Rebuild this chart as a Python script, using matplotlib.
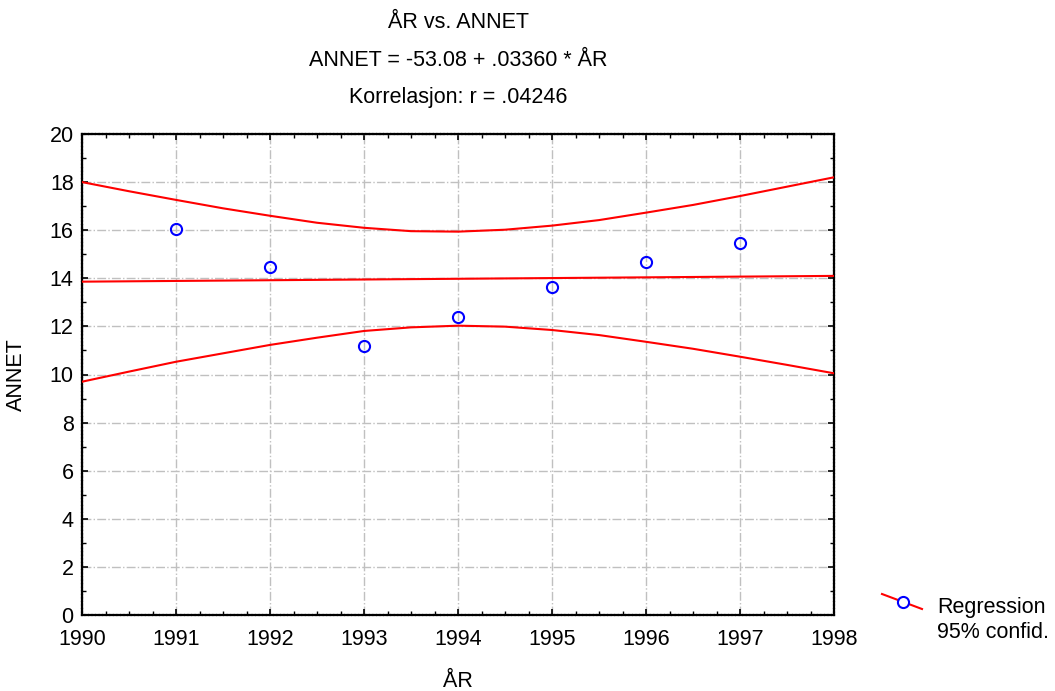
import numpy as np
import matplotlib
matplotlib.use('Agg')
import matplotlib.pyplot as plt
from matplotlib.lines import Line2D
from matplotlib.ticker import MultipleLocator

plt.rcParams['font.family'] = ['Liberation Sans', 'DejaVu Sans']

# observerte verdier
years = [1991, 1992, 1993, 1994, 1995, 1996, 1997]
annet = [16.04, 14.48, 11.20, 12.38, 13.65, 14.69, 15.46]

# regresjonslinje (lest av figuren)
reg_years = [1990, 1998]
reg_vals = [13.86, 14.10]

# 95% konfidensbånd (lest av figuren, hvert halvår)
band_years = [1990, 1990.5, 1991, 1991.5, 1992, 1992.5, 1993, 1993.5, 1994,
              1994.5, 1995, 1995.5, 1996, 1996.5, 1997, 1997.5, 1998]
band_upper = [18.00, 17.62, 17.26, 16.91, 16.60, 16.31, 16.10, 15.96, 15.94,
              16.02, 16.19, 16.42, 16.73, 17.05, 17.42, 17.81, 18.20]
band_lower = [9.70, 10.12, 10.53, 10.88, 11.23, 11.53, 11.81, 11.96, 12.03,
              11.99, 11.85, 11.64, 11.36, 11.07, 10.74, 10.40, 10.05]

fig = plt.figure(figsize=(10.55, 6.91), dpi=100)
ax = fig.add_axes([82 / 1055, 76 / 691, (834 - 82) / 1055, (615 - 134) / 691])

red = '#ff0000'
ax.plot(reg_years, reg_vals, color=red, lw=1.5, zorder=3)
ax.plot(band_years, band_upper, color=red, lw=1.5, zorder=3)
ax.plot(band_years, band_lower, color=red, lw=1.5, zorder=3)
ax.plot(years, annet, 'o', mfc='none', mec='#0000ff', ms=8, mew=1.5, zorder=4)

ax.set_xlim(1990, 1998)
ax.set_ylim(0, 20)
ax.xaxis.set_major_locator(MultipleLocator(1))
ax.xaxis.set_minor_locator(MultipleLocator(0.25))
ax.yaxis.set_major_locator(MultipleLocator(2))
ax.yaxis.set_minor_locator(MultipleLocator(1))
ax.tick_params(which='both', direction='in', top=True, right=True,
               labelsize=15.5, color='black')
ax.tick_params(which='major', length=4, width=1.2)
ax.tick_params(which='minor', length=3, width=1.0)
ax.tick_params(axis='x', which='major', pad=10)
ax.tick_params(axis='y', which='major', pad=6)
ax.grid(True, which='major', color='#c0c0c0', linestyle='-.', lw=1.0)
for sp in ax.spines.values():
    sp.set_linewidth(1.6)
    sp.set_color('black')
    sp.set_linestyle((0, (1, 0.6)))

ax.set_xlabel('ÅR', fontsize=15.5, labelpad=15)
ax.set_ylabel('ANNET', fontsize=15.5, labelpad=16)

cx = (82 + 834) / 2 / 1055
fig.text(cx, 1 - 22 / 691, 'ÅR vs. ANNET', ha='center', va='center', fontsize=15.5)
fig.text(cx, 1 - 60 / 691, 'ANNET = -53.08 + .03360 * ÅR', ha='center', va='center', fontsize=15.5)
fig.text(cx, 1 - 97 / 691, 'Korrelasjon: r = .04246', ha='center', va='center', fontsize=15.5)

# legende
fig.add_artist(Line2D([882 / 1055, 922 / 1055], [1 - 594 / 691, 1 - 609 / 691],
                      color=red, lw=1.5, transform=fig.transFigure))
fig.add_artist(Line2D([903 / 1055], [1 - 602 / 691], marker='o', mfc='white',
                      mec='#0000ff', ms=8, mew=1.5, transform=fig.transFigure))
fig.text(937 / 1055, 1 - 608 / 691, 'Regression', ha='left', va='center', fontsize=15.5)
fig.text(937 / 1055, 1 - 632 / 691, '95% confid.', ha='left', va='center', fontsize=15.5)

fig.savefig('out.png', dpi=100, facecolor='white')
